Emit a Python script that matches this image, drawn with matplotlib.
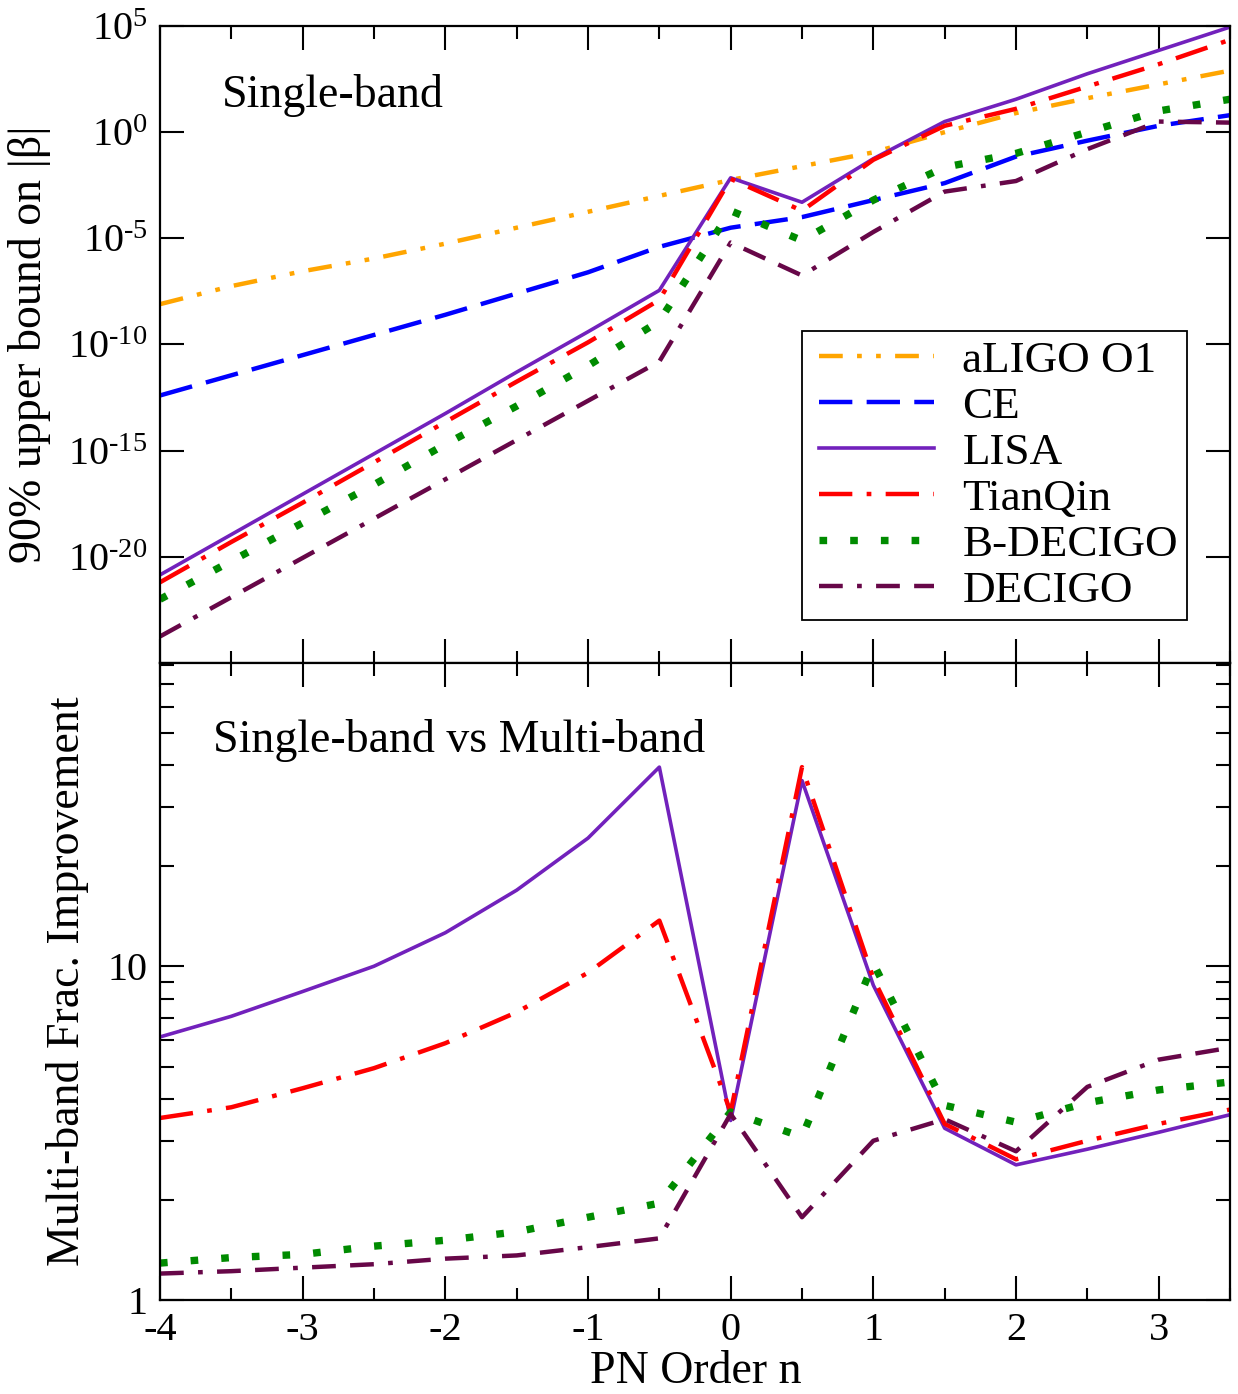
import numpy as np
import matplotlib
matplotlib.use("Agg")
import matplotlib.pyplot as plt
from matplotlib.ticker import FixedLocator, MultipleLocator, NullLocator, NullFormatter, FuncFormatter, LogLocator
from matplotlib.lines import Line2D
from matplotlib.legend_handler import HandlerLine2D

plt.rcParams['font.family'] = ['Liberation Serif', 'DejaVu Serif']
plt.rcParams['mathtext.fontset'] = 'custom'
plt.rcParams['mathtext.rm'] = 'Liberation Serif'
plt.rcParams['mathtext.it'] = 'Liberation Serif:italic'
plt.rcParams['axes.unicode_minus'] = False
plt.rcParams['lines.scale_dashes'] = False

# ---------------- data ----------------
pn_order = [-4, -3.5, -3, -2.5, -2, -1.5, -1, -0.5, 0, 0.5, 1, 1.5, 2, 2.5, 3, 3.5]

# top panel: log10 of 90% upper bound on |beta|
aligo_log10 = [-8.1, -7.25, -6.55, -5.95, -5.25, -4.5, -3.75, -3.0, -2.25, -1.6, -0.95, 0.0, 0.9, 1.6, 2.25, 2.9]
ce_log10 = [-12.4, -11.45, -10.5, -9.55, -8.6, -7.6, -6.6, -5.4, -4.5, -4.0, -3.2, -2.4, -1.15, -0.4, 0.3, 0.8]
lisa_log10 = [-20.85, -18.95, -17.05, -15.15, -13.25, -11.3, -9.4, -7.45, -2.15, -3.3, -1.25, 0.5, 1.55, 2.75, 3.85, 4.95]
tianqin_log10 = [-21.2, -19.3, -17.45, -15.55, -13.65, -11.75, -9.9, -7.9, -2.2, -3.7, -1.3, 0.3, 1.1, 2.15, 3.2, 4.35]
bdecigo_log10 = [-22.0, -20.2, -18.4, -16.6, -14.7, -12.9, -11.0, -8.9, -3.7, -5.1, -3.2, -1.65, -1.0, 0.0, 1.0, 1.55]
decigo_log10 = [-23.75, -21.9, -20.05, -18.2, -16.35, -14.5, -12.65, -10.8, -5.2, -6.75, -4.7, -2.8, -2.3, -0.8, 0.5, 0.45]

# bottom panel: multi-band fractional improvement
lisa_impr = [6.14, 7.08, 8.4, 10.0, 12.6, 16.9, 24.2, 39.5, 3.45, 36.0, 8.77, 3.27, 2.54, 2.83, 3.18, 3.59]
tianqin_impr = [3.51, 3.78, 4.31, 4.95, 5.88, 7.28, 9.56, 13.7, 3.66, 39.5, 9.2, 3.37, 2.64, 3.0, 3.37, 3.72]
bdecigo_impr = [1.29, 1.34, 1.37, 1.45, 1.51, 1.6, 1.77, 1.95, 3.66, 3.08, 10.2, 3.83, 3.41, 3.9, 4.26, 4.5]
decigo_impr = [1.2, 1.22, 1.25, 1.28, 1.33, 1.36, 1.44, 1.53, 3.61, 1.77, 3.0, 3.48, 2.79, 4.35, 5.25, 5.7]

labels = ['aLIGO O1', 'CE', 'LISA', 'TianQin', 'B-DECIGO', 'DECIGO']
top_ytick_exps = [-20, -15, -10, -5, 0, 5]

# ---------------- styles ----------------
C_ORANGE = '#FFA500'
C_BLUE = '#0000FF'
C_INDIGO = '#7221BC'
C_RED = '#FF0000'
C_GREEN = '#008B00'
C_MAROON = '#670748'

LW = 3.2
sty = {
    'aLIGO O1': dict(color=C_ORANGE, lw=LW, dashes=(17.1, 10.3, 3.4, 10.3, 3.4, 10.3)),
    'CE': dict(color=C_BLUE, lw=LW, dashes=(24.0, 10.3)),
    'LISA': dict(color=C_INDIGO, lw=2.6, ls='-'),
    'TianQin': dict(color=C_RED, lw=LW, dashes=(24.0, 10.3, 3.4, 10.3)),
    'B-DECIGO': dict(color=C_GREEN, lw=5.3, dashes=(5.5, 16.6)),
    'DECIGO': dict(color=C_MAROON, lw=LW, dashes=(17.1, 10.3, 3.4, 10.3, 17.1, 10.3)),
}

W, H = 1238, 1394
fig = plt.figure(figsize=(W / 100, H / 100), dpi=100)
left, right = 160 / W, 1230 / W
y_mid = (H - 663) / H
ax1 = fig.add_axes([left, y_mid, right - left, (H - 26) / H - y_mid])
ax2 = fig.add_axes([left, (H - 1300) / H, right - left, y_mid - (H - 1300) / H])

x = np.array(pn_order)
top_series = [aligo_log10, ce_log10, lisa_log10, tianqin_log10, bdecigo_log10, decigo_log10]
for lab, vals in zip(labels, top_series):
    ax1.plot(x, np.power(10.0, vals), label=lab, **sty[lab])

bot_series = {'LISA': lisa_impr, 'TianQin': tianqin_impr, 'B-DECIGO': bdecigo_impr, 'DECIGO': decigo_impr}
for lab, vals in bot_series.items():
    ax2.plot(x, vals, **sty[lab])

for ax in (ax1, ax2):
    ax.set_yscale('log')
    ax.set_xlim(-4, 3.5)
    ax.xaxis.set_major_locator(MultipleLocator(1))
    ax.xaxis.set_minor_locator(MultipleLocator(0.5))
    ax.tick_params(which='both', direction='in', top=True, right=True, width=1.5, colors='black')
    ax.tick_params(which='major', length=17.5)
    ax.tick_params(which='minor', length=9)
    for s in ax.spines.values():
        s.set_linewidth(1.6)


def top_fmt(v, p):
    e = int(round(np.log10(v)))
    s = ('\u2010%d' % abs(e)) if e < 0 else ('%d' % e)
    return r'$\mathdefault{10^{%s}}$' % s


ax1.set_ylim(1e-25, 1e5)
ax1.yaxis.set_major_locator(FixedLocator([10.0 ** e for e in top_ytick_exps]))
ax1.yaxis.set_minor_locator(NullLocator())
ax1.yaxis.set_major_formatter(FuncFormatter(top_fmt))
ax1.tick_params(axis='y', which='major', labelsize=29, pad=9)
ax1.tick_params(axis='x', labelbottom=False)

ax2.set_ylim(1, 81)
ax2.yaxis.set_major_locator(FixedLocator([1, 10]))
ax2.yaxis.set_major_formatter(FuncFormatter(lambda v, p: '%d' % v))
ax2.yaxis.set_minor_locator(LogLocator(base=10, subs=np.arange(2, 10)))
ax2.yaxis.set_minor_formatter(NullFormatter())
ax2.tick_params(axis='y', which='minor', length=10)
ax2.tick_params(axis='both', which='major', labelsize=29, pad=9)
ax2.xaxis.set_major_formatter(FuncFormatter(lambda v, p: '%d' % v))

ax1.set_ylabel('90% upper bound on |β|', fontsize=33, va='center')
ax1.yaxis.set_label_coords((30 - 160) / 1070, 0.5)
ax2.set_ylabel('Multi-band Frac. Improvement', fontsize=33, va='center')
ax2.yaxis.set_label_coords((68 - 160) / 1070, 0.5)
ax2.set_xlabel('PN Order n', fontsize=33, va='center')
ax2.xaxis.set_label_coords(0.501, (1300 - 1372) / 637)

ax1.text((222 - 160) / 1070, (663 - 107) / 637, 'Single-band', transform=ax1.transAxes,
         fontsize=33, ha='left', va='baseline')
ax2.text((213 - 160) / 1070, (1300 - 752) / 637, 'Single-band vs Multi-band', transform=ax2.transAxes,
         fontsize=33, ha='left', va='baseline')

fs = 32.5
fs_px = fs * 100 / 72
leg = ax1.legend(loc='lower right', fontsize=fs, frameon=True, fancybox=False, framealpha=1,
                 edgecolor='black', borderpad=0.2, borderaxespad=43 / fs_px,
                 handlelength=(115 + 8) / fs_px, handletextpad=28 / fs_px, labelspacing=0.12,
                 handler_map={Line2D: HandlerLine2D(xpad=8 / fs_px)})
leg.get_frame().set_linewidth(1.3)

fig.savefig('out.png', dpi=100)
